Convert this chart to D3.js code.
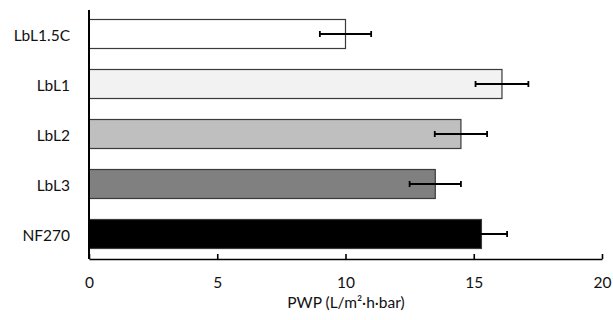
<!DOCTYPE html>
<html>
<head>
<meta charset="utf-8">
<script src="https://cdn.jsdelivr.net/npm/d3@7"></script>
<style>
  body { margin: 0; background: #fff; }
  svg text { font-family: Lato, "Open Sans", sans-serif; font-size: 15.5px; fill: #111; }
</style>
</head>
<body>
<svg id="chart" width="613" height="320"></svg>
<script>
// membranes, top to bottom
const categories = ['LbL1.5C', 'LbL1', 'LbL2', 'LbL3', 'NF270'];
const pwp        = [10.0, 16.1, 14.5, 13.5, 15.3];
const pwpErr     = [1.0, 1.03, 1.02, 1.0, 1.0];
const fills      = ['#ffffff', '#f2f2f2', '#bfbfbf', '#808080', '#000000'];
const xTicks     = [0, 5, 10, 15, 20];

const FONT = 'Lato, "Open Sans", sans-serif';
const svg = d3.select('#chart');

const x = d3.scaleLinear().domain([0, 20]).range([89, 602]);
const y = d3.scaleBand().domain(categories).range([9, 259]).paddingInner(0.42).paddingOuter(0.21);

// bars
svg.selectAll('.bar')
  .data(categories)
  .join('rect')
  .attr('class', 'bar')
  .attr('x', x(0))
  .attr('y', d => y(d))
  .attr('width', (d, i) => x(pwp[i]) - x(0))
  .attr('height', y.bandwidth())
  .attr('fill', (d, i) => fills[i])
  .attr('stroke', '#3a3a3a')
  .attr('stroke-width', 1.2);

// error bars
const eb = svg.selectAll('.err')
  .data(categories)
  .join('g')
  .attr('class', 'err')
  .attr('transform', d => `translate(0,${y(d) + y.bandwidth() / 2})`);

eb.append('line')
  .attr('x1', (d, i) => x(pwp[i] - pwpErr[i]))
  .attr('x2', (d, i) => x(pwp[i] + pwpErr[i]))
  .attr('stroke', '#000').attr('stroke-width', 1.8);
[-1, 1].forEach(s => {
  eb.append('line')
    .attr('x1', (d, i) => x(pwp[i] + s * pwpErr[i]))
    .attr('x2', (d, i) => x(pwp[i] + s * pwpErr[i]))
    .attr('y1', -3).attr('y2', 3)
    .attr('stroke', '#000').attr('stroke-width', 1.8);
});

// x axis, ticks pointing up into the plot
const xAxis = svg.append('g')
  .attr('transform', 'translate(0,259)')
  .call(d3.axisBottom(x).tickValues(xTicks).tickSize(-5).tickPadding(18).tickSizeOuter(0));
xAxis.select('.domain').attr('stroke', '#000').attr('stroke-width', 1.6);
xAxis.selectAll('.tick line').attr('stroke', '#000').attr('stroke-width', 1.6);
xAxis.selectAll('.tick text').attr('font-size', 15.5).attr('font-family', FONT).attr('fill', '#111');

// y axis line and labels
const yAxis = svg.append('g')
  .attr('transform', `translate(${x(0)},0)`)
  .call(d3.axisLeft(y).tickSize(0).tickPadding(19));
yAxis.select('.domain').attr('d', 'M0,10V259').attr('stroke', '#000').attr('stroke-width', 2);
yAxis.selectAll('.tick text').attr('font-size', 15.5).attr('font-family', FONT).attr('fill', '#111').attr('dy', '0.45em');

// axis title
svg.append('text')
  .attr('x', 346).attr('y', 308)
  .attr('text-anchor', 'middle')
  .text('PWP (L/m²·h·bar)');
</script>
</body>
</html>
